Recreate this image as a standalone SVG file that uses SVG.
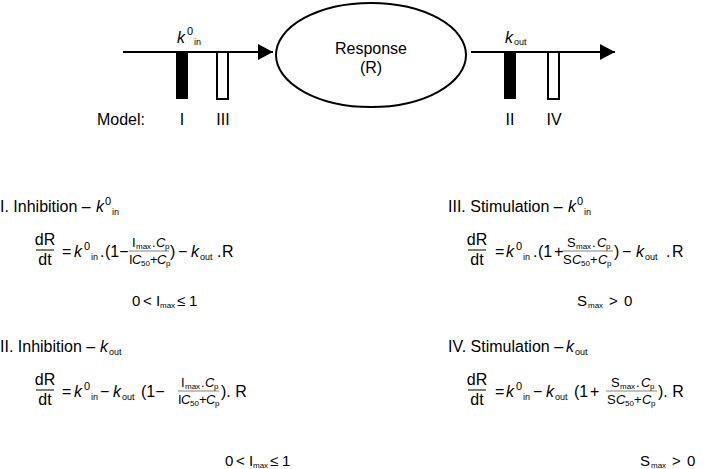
<svg xmlns="http://www.w3.org/2000/svg" width="720" height="469" viewBox="0 0 720 469">
<defs>
<style>
text{font-family:"Liberation Sans",Arial,sans-serif;font-size:16px;fill:#000}
.it{font-style:italic}
.sb{font-size:9px}
.sp{font-size:11px}
.fr{font-size:13px}
.fs{font-size:8px}
.cs{font-size:15px}
.ln{stroke:#000;stroke-width:2;fill:none}
.bar{stroke:#000;stroke-width:1}
.fb{stroke:#000;stroke-width:0.5}
</style>
<marker id="ah" markerWidth="16" markerHeight="16" refX="15" refY="8" orient="auto" markerUnits="userSpaceOnUse">
<path d="M0,0 L15,8 L0,16 Z" fill="#000"/>
</marker>
</defs>
<rect width="720" height="469" fill="#fff"/>
<g id="connectors">
<line class="ln" x1="123" y1="52" x2="273" y2="52" marker-end="url(#ah)"/>
<line class="ln" x1="471" y1="52" x2="615" y2="52" marker-end="url(#ah)"/>
</g>
<g id="response">
<ellipse class="ln" cx="371" cy="55" rx="95" ry="52" fill="#fff"/>
<text x="371" y="54" text-anchor="middle">Response</text>
<text x="371" y="73" text-anchor="middle">(R)</text>
</g>
<g id="kin-label"><text y="43"><tspan x="177" class="it">k</tspan><tspan x="187" y="35" class="sp">0</tspan><tspan x="194" y="45" class="sb">in</tspan></text></g>
<g id="kout-label"><text y="43"><tspan x="505" class="it">k</tspan><tspan x="514" y="45" class="sb">out</tspan></text></g>
<g id="bar-I"><rect x="176" y="52" width="12" height="47" fill="#000"/></g>
<g id="bar-III"><rect x="217" y="52" width="11" height="47" fill="#fff" stroke="#000" stroke-width="2"/></g>
<g id="bar-II"><rect x="504" y="52" width="12" height="47" fill="#000"/></g>
<g id="bar-IV"><rect x="548" y="52" width="11" height="47" fill="#fff" stroke="#000" stroke-width="2"/></g>
<g id="model-labels">
<text x="145" y="125" text-anchor="end">Model:</text>
<text x="182" y="125" text-anchor="middle">I</text>
<text x="223" y="125" text-anchor="middle">III</text>
<text x="510" y="125" text-anchor="middle">II</text>
<text x="554" y="125" text-anchor="middle">IV</text>
</g>

<g id="eq-I">
<text y="212"><tspan x="0">I. Inhibition – </tspan><tspan x="96" class="it">k</tspan><tspan x="105" y="205" class="sp">0</tspan><tspan x="112" y="215" class="sb">in</tspan></text>
<text x="45" y="245" text-anchor="middle">dR</text>
<line class="bar" x1="36" y1="250" x2="54" y2="250"/>
<text x="45" y="265" text-anchor="middle">dt</text>
<text y="257"><tspan x="62">=</tspan><tspan x="74" class="it">k</tspan><tspan x="84" y="250" class="sp">0</tspan><tspan x="91" y="260" class="sb">in</tspan><tspan x="100" y="257">.</tspan><tspan x="105">(1−</tspan></text>
<text class="fr" y="247"><tspan x="132">I</tspan><tspan x="136" y="249" class="fs">max</tspan><tspan x="152" y="247">.</tspan><tspan x="156" class="it">C</tspan><tspan x="165" y="249" class="fs">p</tspan></text>
<line class="fb" x1="129" y1="251" x2="169" y2="251"/>
<text class="fr" y="264"><tspan x="129">I</tspan><tspan x="132" class="it">C</tspan><tspan x="141" y="266" class="fs">50</tspan><tspan x="150" y="264">+</tspan><tspan x="157" class="it">C</tspan><tspan x="166" y="266" class="fs">p</tspan></text>
<text y="257"><tspan x="170">)</tspan><tspan x="178">−</tspan><tspan x="191" class="it">k</tspan><tspan x="200" y="260" class="sb">out</tspan><tspan x="217" y="257">.</tspan><tspan x="222">R</tspan></text>
<text class="cs" y="306"><tspan x="132">0</tspan><tspan x="143">&lt;</tspan><tspan x="156">I</tspan><tspan x="160" y="308" class="fs">max</tspan><tspan x="177" y="306">≤</tspan><tspan x="189">1</tspan></text>
</g>

<g id="eq-III">
<text y="212"><tspan x="448">III. Stimulation – </tspan><tspan x="568" class="it">k</tspan><tspan x="577" y="205" class="sp">0</tspan><tspan x="584" y="215" class="sb">in</tspan></text>
<text x="477" y="245" text-anchor="middle">dR</text>
<line class="bar" x1="468" y1="250" x2="486" y2="250"/>
<text x="477" y="265" text-anchor="middle">dt</text>
<text y="257"><tspan x="495">=</tspan><tspan x="506" class="it">k</tspan><tspan x="516" y="250" class="sp">0</tspan><tspan x="523" y="260" class="sb">in</tspan><tspan x="533" y="257">.</tspan><tspan x="538">(1</tspan><tspan x="554">+</tspan></text>
<text class="fr" y="247"><tspan x="567">S</tspan><tspan x="576" y="249" class="fs">max</tspan><tspan x="592" y="247">.</tspan><tspan x="597" class="it">C</tspan><tspan x="606" y="249" class="fs">p</tspan></text>
<line class="fb" x1="562" y1="251" x2="613" y2="251"/>
<text class="fr" y="264"><tspan x="563">S</tspan><tspan x="572" class="it">C</tspan><tspan x="581" y="266" class="fs">50</tspan><tspan x="590" y="264">+</tspan><tspan x="598" class="it">C</tspan><tspan x="607" y="266" class="fs">p</tspan></text>
<text y="257"><tspan x="614">)</tspan><tspan x="622">−</tspan><tspan x="636" class="it">k</tspan><tspan x="645" y="260" class="sb">out</tspan><tspan x="666" y="257">.</tspan><tspan x="672">R</tspan></text>
<text class="cs" y="306"><tspan x="577">S</tspan><tspan x="588" y="308" class="fs">max</tspan><tspan x="609" y="306">&gt;</tspan><tspan x="624">0</tspan></text>
</g>

<g id="eq-II">
<text y="352"><tspan x="0">II. Inhibition – </tspan><tspan x="100" class="it">k</tspan><tspan x="109" y="355" class="sb">out</tspan></text>
<text x="45" y="385" text-anchor="middle">dR</text>
<line class="bar" x1="36" y1="390" x2="54" y2="390"/>
<text x="45" y="405" text-anchor="middle">dt</text>
<text y="397"><tspan x="62">=</tspan><tspan x="74" class="it">k</tspan><tspan x="84" y="390" class="sp">0</tspan><tspan x="91" y="400" class="sb">in</tspan><tspan x="100" y="397">−</tspan><tspan x="113" class="it">k</tspan><tspan x="122" y="400" class="sb">out</tspan><tspan x="141" y="397">(1−</tspan></text>
<text class="fr" y="387"><tspan x="181">I</tspan><tspan x="185" y="389" class="fs">max</tspan><tspan x="201" y="387">.</tspan><tspan x="205" class="it">C</tspan><tspan x="214" y="389" class="fs">p</tspan></text>
<line class="fb" x1="178" y1="391" x2="219" y2="391"/>
<text class="fr" y="404"><tspan x="178">I</tspan><tspan x="181" class="it">C</tspan><tspan x="190" y="406" class="fs">50</tspan><tspan x="199" y="404">+</tspan><tspan x="206" class="it">C</tspan><tspan x="215" y="406" class="fs">p</tspan></text>
<text y="397"><tspan x="221">). R</tspan></text>
<text class="cs" y="466"><tspan x="225">0</tspan><tspan x="236">&lt;</tspan><tspan x="249">I</tspan><tspan x="253" y="468" class="fs">max</tspan><tspan x="270" y="466">≤</tspan><tspan x="282">1</tspan></text>
</g>

<g id="eq-IV">
<text y="352"><tspan x="448">IV. Stimulation – </tspan><tspan x="566" class="it">k</tspan><tspan x="575" y="355" class="sb">out</tspan></text>
<text x="477" y="385" text-anchor="middle">dR</text>
<line class="bar" x1="468" y1="390" x2="486" y2="390"/>
<text x="477" y="405" text-anchor="middle">dt</text>
<text y="397"><tspan x="495">=</tspan><tspan x="506" class="it">k</tspan><tspan x="516" y="390" class="sp">0</tspan><tspan x="523" y="400" class="sb">in</tspan><tspan x="533" y="397">−</tspan><tspan x="546" class="it">k</tspan><tspan x="555" y="400" class="sb">out</tspan><tspan x="574" y="397">(1</tspan><tspan x="590">+</tspan></text>
<text class="fr" y="387"><tspan x="611">S</tspan><tspan x="620" y="389" class="fs">max</tspan><tspan x="636" y="387">.</tspan><tspan x="641" class="it">C</tspan><tspan x="650" y="389" class="fs">p</tspan></text>
<line class="fb" x1="606" y1="391" x2="657" y2="391"/>
<text class="fr" y="404"><tspan x="607">S</tspan><tspan x="616" class="it">C</tspan><tspan x="625" y="406" class="fs">50</tspan><tspan x="634" y="404">+</tspan><tspan x="642" class="it">C</tspan><tspan x="651" y="406" class="fs">p</tspan></text>
<text y="397"><tspan x="658">). R</tspan></text>
<text class="cs" y="466"><tspan x="640">S</tspan><tspan x="651" y="468" class="fs">max</tspan><tspan x="672" y="466">&gt;</tspan><tspan x="687">0</tspan></text>
</g>
</svg>
